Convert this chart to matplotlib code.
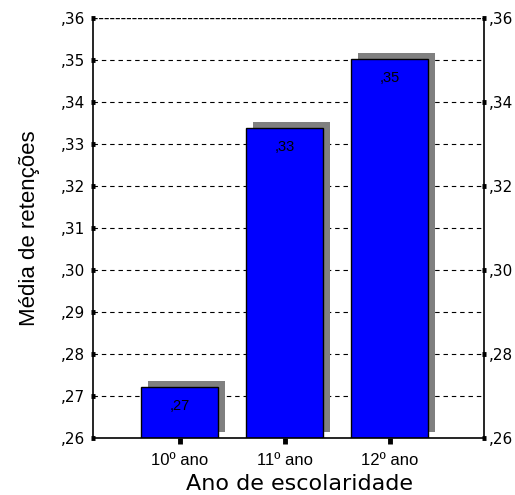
"""Média de retenções por ano de escolaridade — bar chart with drop shadows."""

import matplotlib
matplotlib.use("Agg")

import matplotlib.pyplot as plt
import matplotlib.ticker as mticker
import numpy as np

# Data
categories = ["10º ano", "11º ano", "12º ano"]
means = [0.2721, 0.3338, 0.3502]
bar_labels = [",27", ",33", ",35"]

y_min, y_max = 0.26, 0.36

TICK_FONT = "DejaVu Sans"
LABEL_FONT = "Liberation Sans"


def comma_fmt(v, _):
    # ,26 ,27 ... style (SPSS-like, no leading zero)
    return f"{v:.2f}"[1:].replace(".", ",")


fig = plt.figure(figsize=(5.15, 4.95), dpi=100)
ax = fig.add_axes([0.1806, 0.1152, 0.7592, 0.8485])

x = np.arange(len(categories))
width = 0.733
dx, dy = 0.067, 0.00143  # shadow offset

# Gridlines (dashed, behind bars)
for v in np.arange(0.27, 0.355, 0.01):
    ax.axhline(v, color="black", lw=0.8, ls=(0, (4, 3.5)), zorder=0)
ax.axhline(y_max, color="black", lw=1.0, ls=(0, (3, 1)), zorder=0)

# Shadows
ax.bar(x + dx, np.array(means) - y_min, bottom=y_min + dy, width=width,
       color="#808080", edgecolor="none", zorder=1)
# Bars
ax.bar(x, np.array(means) - y_min, bottom=y_min, width=width,
       color="#0000FF", edgecolor="black", linewidth=1.0, zorder=2)

for xi, m, lab in zip(x, means, bar_labels):
    ax.annotate(lab, xy=(xi, m), xytext=(0, -13.5), textcoords="offset points",
                ha="center", va="center", fontsize=10.5, family=LABEL_FONT,
                color="black", zorder=3)

ax.set_xlim(-0.824, 2.9)
ax.set_ylim(y_min, y_max)

ax.spines["top"].set_visible(False)
for s in ("left", "right", "bottom"):
    ax.spines[s].set_linewidth(1.2)
    ax.spines[s].set_color("black")

ax.set_xticks(x)
ax.set_xticklabels(categories, fontsize=12, family=LABEL_FONT)
ax.tick_params(axis="x", direction="out", length=4, width=3.5, pad=7)

ax.yaxis.set_major_locator(mticker.FixedLocator(np.round(np.arange(0.26, 0.3601, 0.01), 2)))
ax.yaxis.set_major_formatter(mticker.FuncFormatter(comma_fmt))
ax.tick_params(axis="y", direction="inout", length=3.5, width=3.5, pad=4,
               labelsize=11)
for t in ax.get_yticklabels():
    t.set_family(TICK_FONT)

# Right axis with ticks every 0.02
ax2 = ax.twinx()
ax2.set_ylim(y_min, y_max)
ax2.yaxis.set_major_locator(mticker.FixedLocator(np.round(np.arange(0.26, 0.3601, 0.02), 2)))
ax2.yaxis.set_major_formatter(mticker.FuncFormatter(comma_fmt))
ax2.tick_params(axis="y", direction="inout", length=3.5, width=3.5, pad=2,
                labelsize=11)
for t in ax2.get_yticklabels():
    t.set_family(TICK_FONT)
for s in ax2.spines.values():
    s.set_visible(False)

# Axis titles placed in figure coords
fig.text(300 / 515, 1 - 490 / 495, "Ano de escolaridade", fontsize=16,
         family=TICK_FONT, ha="center", va="baseline")
ax.set_ylabel("Média de retenções", fontsize=16, family=LABEL_FONT, labelpad=15)

fig.savefig("out.png", dpi=100, facecolor="white")
